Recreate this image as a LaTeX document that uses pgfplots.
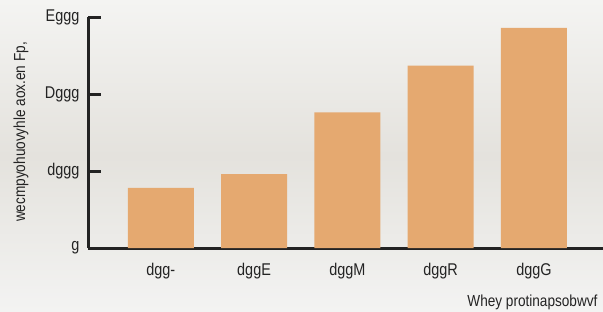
\documentclass[border=0pt]{standalone}
\usepackage{pgfplots}
\pgfplotsset{compat=1.18}
\usepackage{fontspec}
\setmainfont{Liberation Sans}[FakeStretch=0.85]
\definecolor{barc}{RGB}{229,169,112}
\definecolor{axc}{RGB}{35,35,35}
\definecolor{bgtop}{RGB}{244,244,242}
\definecolor{bgmid}{RGB}{228,226,221}
\definecolor{bgbot}{RGB}{243,243,242}
\begin{document}
\begin{tikzpicture}
\useasboundingbox (0,0) rectangle (603pt,311pt);
\shade[top color=bgtop, bottom color=bgbot, middle color=bgmid] (0,0) rectangle (603pt,311pt);
\begin{axis}[
  at={(88pt,63pt)}, anchor=south west,
  scale only axis, width=515pt, height=231pt,
  xmin=-0.78, xmax=4.74, ymin=0, ymax=3000,
  axis x line=bottom, axis y line=left,
  axis line style={axc, line width=3pt, -},
  xtick=data, xticklabels={dgg-,dggE,dggM,dggR,dggG},
  ytick={0,1000,2000,3000}, yticklabels={g,dggg,Dggg,Eggg},
  major tick length=13pt,
  tick align=inside,
  xtick style={draw=none},
  ytick style={axc, line width=3pt},
  ticklabel style={font=\fontsize{17}{17}\selectfont, text=axc},
  yticklabel style={xshift=-5pt},
  xticklabel style={yshift=1pt},
  ybar, bar width=66pt,
  clip=false,
]
\addplot[fill=barc, draw=none] coordinates {(0,780) (1,960) (2,1760) (3,2370) (4,2860)};
\end{axis}
\node[anchor=base east, font=\fontsize{16}{16}\selectfont, text=axc] at (601pt,5pt) {Whey protinapsobwvf};
\node[rotate=90, font=\fontsize{16}{16}\selectfont, text=axc] at (21pt,179pt) {wecmpyohuovyhle aox.en Fp,};
\end{tikzpicture}
\end{document}
